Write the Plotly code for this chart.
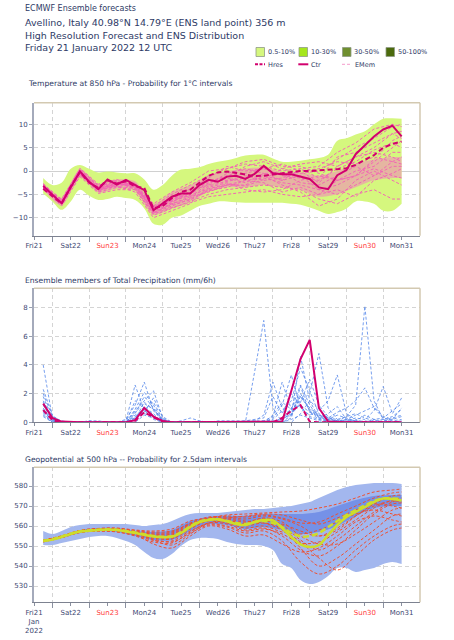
import pandas as pd
import plotly.graph_objects as go

# ---------------- time axis ----------------
times = pd.date_range("2022-01-21 18:00", "2022-01-31 12:00", freq="6h")   # 40 steps
mtimes = list(times[::2]) + [times[-1]]                                    # 21 steps (members)
label_days = pd.date_range("2022-01-21 12:00", "2022-01-31 12:00", freq="D")
midnights = pd.date_range("2022-01-22 00:00", "2022-01-31 00:00", freq="D")
day_labels = ["Fri21", "Sat22", "Sun23", "Mon24", "Tue25", "Wed26", "Thu27", "Fri28", "Sat29", "Sun30", "Mon31"]
sunday_labels = ["Sun23", "Sun30"]

# ---------------- Temperature 850 hPa ----------------
t_ctr = [-3.2, -5.0, -6.9, -3.5, -0.1, -2.3, -3.9, -1.8, -2.9, -1.9,
         -3.0, -4.1, -8.4, -6.9, -5.5, -4.8, -4.8, -3.0, -1.9, -2.3,
         -1.2, -1.0, -1.7, -0.6, 1.1, -0.5, -0.7, -0.7, -1.2, -1.7,
         -3.5, -3.9, -0.9, 0.2, 3.6, 5.6, 7.4, 8.9, 9.7, 7.4]
t_hres = [-3.8, -5.3, -7.0, -3.3, -0.2, -2.5, -3.6, -2.0, -2.7, -2.2,
          -3.3, -3.6, -8.0, -7.5, -5.8, -4.5, -4.0, -2.5, -1.0, -0.3,
          -0.1, -0.4, -0.8, -1.1, -1.0, -0.8, -0.5, -0.2, 0.0, 0.0,
          0.1, 0.2, 0.4, 0.6, 1.3, 2.4, 3.4, 5.0, 5.8, 6.3]
t_env_upper = [-1.5, -3.0, -2.5, 0.5, 1.3, 0.5, -0.3, -0.1, -0.3, -0.5,
               -0.5, -1.8, -4.0, -3.0, -1.0, 0.3, 0.5, 0.8, 1.5, 2.0,
               2.3, 2.8, 3.3, 3.5, 3.5, 2.7, 2.0, 2.0, 2.2, 2.5,
               2.8, 3.5, 6.5, 7.0, 7.8, 8.5, 10.0, 11.2, 11.3, 11.2]
t_env_lower = [-4.8, -6.5, -8.3, -6.5, -4.0, -5.3, -6.2, -6.0, -5.5, -5.8,
               -6.2, -8.0, -11.3, -11.5, -10.0, -9.5, -8.5, -7.5, -7.0, -6.5,
               -6.5, -6.7, -6.8, -6.8, -6.8, -6.8, -6.8, -7.0, -7.2, -7.8,
               -8.5, -9.2, -8.8, -8.0, -6.5, -6.5, -7.0, -8.5, -8.5, -7.0]
t_core_upper = [-2.6, -5.8, 0.3, -2.8, -1.8, -2.2, -7.0, -4.5, -3.0, -1.0, 0.0,
                0.5, 0.8, -0.2, -0.3, -1.0, 0.0, 1.5, 2.5, 3.0, 3.0]
t_core_lower = [-3.9, -7.4, -1.2, -4.6, -3.8, -4.2, -9.3, -8.0, -6.5, -4.5, -3.5,
                -3.5, -3.0, -3.5, -4.0, -5.5, -5.0, -3.5, -2.0, -1.5, -1.5]
temp_members = [
    [-3.0, -6.5, -0.5, -3.5, -2.5, -3.5, -8.0, -6.5, -5.0, -2.5, -1.0, -0.5, 0.5, -1.0, -1.5, -2.0, 0.5, 2.0, 4.5, 6.0, 5.0],
    [-3.5, -7.0, -1.0, -4.0, -3.0, -2.5, -9.0, -7.5, -6.0, -4.0, -3.0, -2.0, -1.5, -2.5, -3.0, -4.0, -5.0, -3.0, -1.0, 2.0, 3.0],
    [-2.8, -6.2, 0.3, -3.0, -2.0, -3.0, -7.5, -5.0, -3.0, -1.0, 0.5, 1.5, 1.0, 0.0, 0.5, 1.0, 4.0, 6.0, 9.0, 10.0, 9.5],
    [-3.8, -7.2, -0.8, -4.5, -3.5, -4.0, -9.5, -8.0, -6.5, -5.0, -4.0, -3.5, -3.0, -3.5, -4.0, -6.0, -7.0, -5.0, -4.0, -6.0, -6.0],
    [-3.2, -6.8, 0.0, -3.8, -2.8, -3.2, -8.5, -6.0, -4.5, -2.0, -2.0, -1.0, -2.0, -1.5, 0.0, 0.5, 2.0, 1.5, 3.0, 2.0, 1.5],
    [-3.4, -6.6, -0.3, -4.2, -3.2, -4.5, -10.0, -8.5, -7.0, -3.5, -2.5, -4.0, -4.5, -4.0, -2.0, -1.0, -2.0, 0.0, 1.0, 4.0, 4.0],
    [-2.9, -6.0, 0.5, -3.2, -2.2, -2.8, -7.0, -4.5, -2.5, 0.0, 0.5, 2.0, 2.5, 1.0, 1.0, -0.5, -2.0, -1.0, 2.0, 5.0, 6.5],
    [-3.6, -7.5, -1.2, -4.8, -4.0, -4.0, -9.0, -7.0, -5.5, -4.5, -3.0, -3.0, -1.0, -3.0, -4.5, -7.5, -6.0, -2.0, 0.0, -2.0, -3.0],
    [-3.1, -6.4, -0.2, -3.6, -2.6, -3.6, -8.2, -6.8, -4.2, -3.0, -1.5, -2.5, -0.5, -0.5, -2.5, -3.0, -1.0, 1.0, -1.0, 1.0, 1.0],
    [-3.3, -6.9, 0.2, -3.4, -3.2, -2.6, -7.8, -5.5, -5.5, -2.8, -0.5, 0.5, -0.5, -2.0, 0.5, -1.5, 3.0, 4.0, 6.0, 8.0, 7.0],
    [-3.7, -7.1, -0.6, -4.4, -2.4, -3.9, -8.8, -7.2, -6.2, -4.2, -3.5, -2.0, -2.5, -4.5, -3.5, -5.0, -4.0, -5.5, -2.0, -0.5, 0.5],
    [-2.7, -6.3, 0.6, -2.8, -1.8, -3.3, -7.6, -6.3, -3.8, -1.5, 1.0, 0.0, 0.5, 1.5, 0.0, -2.5, 1.0, 3.0, 5.0, 8.0, 8.5],
    [-3.3, -6.7, -0.4, -3.9, -2.7, -3.4, -8.6, -7.0, -5.8, -3.2, -2.2, -1.5, -1.0, -2.0, -1.0, -4.0, -3.0, -1.0, 2.5, 6.5, 7.5],
    [-3.0, -6.4, 0.1, -3.3, -2.3, -3.1, -8.0, -6.2, -4.8, -2.2, -1.2, 1.0, 2.0, 0.5, -0.5, 0.0, 2.5, 5.0, 7.0, 9.5, 10.0],
    [-3.5, -7.0, -0.7, -4.1, -3.3, -3.7, -9.2, -7.8, -6.8, -5.5, -5.0, -4.5, -4.0, -5.0, -5.5, -5.0, -2.0, -1.0, 0.5, -1.0, -1.5],
    [-3.2, -6.6, -0.2, -3.7, -2.9, -2.9, -8.3, -6.5, -5.2, -3.8, -2.8, -3.2, -1.8, 0.5, 1.5, 2.0, 1.0, 3.0, 4.0, 3.0, 2.0],
]

# ---------------- Precipitation (mm/6h) ----------------
p_ctr = [1.3, 0.3, 0.05, 0, 0, 0, 0, 0, 0, 0,
         0.15, 1.0, 0.4, 0.1, 0, 0, 0, 0, 0, 0,
         0, 0, 0, 0, 0, 0, 0.05, 2.2, 4.4, 5.75,
         1.0, 0.05, 0, 0, 0, 0, 0, 0, 0, 0]
p_hres = [0.85, 0.15, 0, 0, 0, 0, 0, 0, 0, 0,
          0.1, 0.7, 0.35, 0.05, 0, 0, 0, 0, 0, 0,
          0, 0, 0, 0, 0, 0, 0.3, 0.8, 1.2, 0.05,
          0, 0, 0, 0, 0, 0, 0, 0, 0, 0]
precip_members = [
    [4.0, 0.3, 0, 0, 0, 0, 0, 0, 0, 0.1, 2.6, 0.8, 0.2, 0, 0, 0, 0, 0, 0, 0, 0, 0, 0, 3.5, 7.1, 1.0, 0, 0.2, 0.5, 0.3, 0.1, 0, 0, 0, 0, 0, 0.2, 0, 0, 0.1],
    [2.3, 0.5, 0, 0, 0, 0, 0, 0, 0, 0.2, 1.2, 2.8, 0.8, 0.1, 0, 0, 0, 0, 0, 0, 0, 0, 0, 0.1, 0.5, 2.8, 1.0, 0.5, 4.6, 1.5, 0.3, 0.1, 0, 0.2, 0.1, 0, 0, 0, 0, 0],
    [1.8, 0.2, 0, 0, 0, 0, 0, 0, 0, 0, 0.8, 1.5, 2.2, 0.3, 0, 0, 0, 0.1, 0, 0, 0, 0, 0, 0, 0.1, 0.4, 2.8, 0.9, 1.5, 2.0, 4.8, 1.0, 0.2, 0, 0, 0.1, 0, 0, 0, 0],
    [1.2, 0.1, 0, 0, 0, 0.1, 0, 0, 0, 0, 0.6, 1.8, 1.0, 0.1, 0, 0, 0, 0, 0, 0, 0, 0, 0, 0, 0, 0.3, 1.2, 3.3, 1.0, 0.5, 0.8, 1.5, 3.3, 0.6, 0.2, 0, 0, 0, 0.3, 0.5],
    [0.9, 0.1, 0, 0, 0, 0, 0, 0, 0, 0, 0.3, 1.1, 0.6, 0, 0, 0, 0, 0, 0, 0, 0, 0, 0, 0, 0, 0, 0.2, 0.6, 2.0, 0.8, 0.3, 0.2, 0.1, 0.4, 1.2, 8.1, 1.5, 0.2, 0, 0],
    [0.6, 0, 0, 0, 0, 0, 0, 0, 0, 0, 0.2, 1.4, 0.9, 0.2, 0, 0, 0, 0, 0, 0, 0, 0, 0, 0, 0, 0, 0, 0.5, 1.8, 1.0, 0.5, 0.3, 0.7, 1.0, 1.5, 2.4, 1.0, 0.3, 0.1, 0.2],
    [1.5, 0.2, 0, 0, 0, 0, 0, 0, 0, 0, 0.5, 0.9, 1.4, 0.2, 0, 0, 0, 0, 0, 0, 0, 0, 0, 0, 0, 0, 0, 0.3, 2.5, 0.7, 0.2, 0.1, 0, 0.1, 0.3, 0.2, 0.8, 2.5, 0.6, 1.7],
    [0.7, 0, 0, 0, 0, 0, 0, 0, 0, 0, 1.5, 1.0, 0.5, 0, 0, 0, 0, 0, 0, 0, 0, 0, 0, 0, 0, 0.2, 0.8, 1.5, 3.8, 2.2, 0.6, 0.2, 0.5, 0.3, 0.1, 0.5, 0.2, 0.3, 0.8, 1.3],
    [0.4, 0, 0, 0, 0, 0, 0, 0, 0, 0, 0.2, 0.6, 0.4, 0, 0, 0, 0, 0, 0, 0, 0, 0, 0, 0, 0, 0, 0.1, 0.8, 1.2, 0.7, 0.5, 0.3, 0.2, 0.4, 0.6, 0.3, 0.1, 0.2, 0.4, 0.9],
    [1.0, 0.1, 0, 0, 0, 0, 0, 0, 0, 0, 0.4, 0.7, 1.7, 0.4, 0, 0, 0, 0, 0, 0, 0, 0, 0, 0, 0, 0.5, 1.4, 0.9, 2.6, 1.2, 0.3, 0.6, 1.1, 0.2, 0, 0, 0, 0.1, 0.2, 0.4],
    [0.5, 0, 0, 0, 0, 0, 0, 0, 0, 0, 0, 0.5, 0.3, 0, 0, 0, 0, 0, 0, 0, 0, 0, 0, 0, 0, 0, 0, 0, 0.6, 1.5, 0.9, 0.3, 0.1, 0.2, 0.5, 0.8, 1.1, 0.4, 0.2, 1.0],
    [2.0, 0.4, 0.1, 0, 0, 0, 0, 0, 0, 0, 0.9, 2.1, 1.2, 0.1, 0, 0.1, 0.3, 0.1, 0, 0, 0, 0, 0.1, 0.2, 0.3, 1.8, 0.6, 2.0, 1.1, 0.4, 0.2, 0, 0, 0, 0, 0, 0, 0, 0, 0],
    [0.8, 0.1, 0, 0, 0, 0.1, 0.1, 0, 0, 0, 0.3, 0.8, 0.4, 0, 0, 0, 0, 0, 0, 0.1, 0.1, 0.1, 0.1, 0.1, 0.1, 0.1, 0.2, 1.0, 1.8, 0.9, 0.4, 0.2, 0.1, 0.1, 0.1, 0, 0, 0, 0, 0.1],
    [1.4, 0.2, 0, 0, 0, 0, 0, 0, 0, 0, 0.7, 1.3, 0.9, 0.1, 0, 0, 0, 0, 0, 0, 0, 0, 0, 0, 0, 0, 0.3, 0.5, 1.4, 3.0, 1.2, 0.4, 0, 0, 0, 0, 0, 0, 0, 0],
]

# ---------------- Geopotential 500 hPa (dam) ----------------
z_ctr = [552.5, 553.2, 554.5, 556.0, 557.2, 557.6, 558.0, 558.2, 558.0, 557.3,
         556.5, 555.6, 554.8, 554.4, 554.6, 556.5, 559.5, 562.0, 563.0, 563.3,
         562.3, 561.0, 560.5, 562.0, 563.0, 562.8, 559.0, 554.5, 550.8, 549.5,
         550.5, 555.5, 560.5, 564.5, 567.0, 569.5, 572.0, 573.8, 573.5, 572.8]
z_hres = [552.6, 553.4, 554.7, 556.2, 557.3, 557.8, 558.1, 558.3, 558.1, 557.5,
          556.8, 555.9, 555.0, 554.6, 554.9, 556.9, 559.8, 562.2, 563.2, 563.4,
          562.5, 561.5, 561.0, 562.0, 562.5, 561.5, 559.5, 556.5, 554.8, 555.0,
          556.5, 559.5, 562.5, 565.5, 568.0, 570.2, 572.5, 573.8, 573.8, 573.5]
z_env_upper = [557.5, 556.0, 557.5, 559.5, 560.5, 561.0, 561.0, 561.0, 561.0, 561.0,
               560.5, 560.0, 560.5, 561.0, 562.5, 564.5, 566.0, 566.5, 566.5, 566.5,
               567.0, 567.5, 568.0, 568.5, 568.5, 569.0, 569.5, 570.0, 571.0, 572.0,
               574.0, 576.0, 578.0, 579.5, 580.5, 581.0, 581.5, 581.5, 581.5, 581.0]
z_env_lower = [550.5, 550.5, 551.5, 552.5, 553.5, 554.5, 555.0, 555.0, 554.0, 552.5,
               550.5, 547.0, 544.0, 543.5, 546.0, 550.0, 553.0, 554.0, 554.0, 553.5,
               552.0, 551.0, 550.5, 550.5, 550.0, 548.0, 541.0, 539.0, 533.0, 531.0,
               532.0, 535.0, 539.0, 539.0, 537.0, 538.0, 539.0, 541.0, 542.0, 541.0]
z_band_upper = [553.0, 555.0, 558.0, 559.0, 559.0, 557.5, 557.0, 558.0, 562.5, 564.5, 565.0,
                565.0, 566.0, 566.0, 566.0, 567.0, 570.0, 573.0, 575.0, 575.5, 575.5]
z_band_lower = [552.0, 554.0, 556.5, 557.5, 557.0, 555.0, 553.0, 553.0, 557.5, 561.0, 560.5,
                558.5, 559.5, 558.0, 556.0, 557.0, 560.0, 565.0, 569.0, 570.0, 570.0]
geo_members = [
    [552.5, 554.8, 557.5, 558.5, 558.5, 557.5, 556.5, 557.0, 561.5, 564.5, 564.5, 563.5, 565.0, 563.5, 560.0, 555.0, 558.0, 565.0, 571.0, 575.0, 575.5],
    [552.0, 554.2, 557.0, 557.5, 557.0, 555.0, 552.0, 551.5, 557.0, 561.5, 561.0, 558.0, 559.0, 555.0, 548.0, 545.0, 550.0, 558.0, 566.0, 571.0, 571.5],
    [553.0, 555.0, 557.8, 558.8, 559.0, 558.0, 557.5, 558.5, 562.5, 564.0, 565.5, 566.0, 566.5, 567.0, 567.5, 569.0, 571.0, 574.0, 577.0, 578.0, 578.5],
    [552.2, 554.5, 556.8, 557.6, 557.5, 556.0, 553.5, 552.0, 556.5, 560.5, 559.5, 556.5, 557.5, 552.5, 542.0, 536.0, 540.0, 548.0, 555.0, 560.0, 561.0],
    [552.6, 554.6, 557.2, 558.2, 558.2, 556.8, 555.2, 555.5, 560.0, 563.2, 563.5, 562.0, 563.8, 560.5, 553.0, 548.0, 553.0, 560.0, 567.0, 572.0, 573.0],
    [552.4, 554.3, 556.9, 557.8, 557.7, 555.8, 551.0, 549.0, 555.0, 560.0, 558.5, 555.0, 555.5, 551.0, 547.0, 549.0, 555.0, 562.0, 565.0, 563.0, 562.0],
    [552.8, 554.9, 557.6, 558.6, 558.8, 557.8, 557.0, 557.5, 561.0, 563.5, 564.0, 565.0, 566.0, 565.5, 563.0, 561.0, 564.0, 568.0, 571.0, 570.0, 569.0],
    [552.3, 554.4, 557.1, 557.9, 557.8, 556.3, 554.0, 553.5, 558.5, 562.5, 561.5, 559.0, 560.0, 557.0, 556.0, 558.0, 562.0, 566.0, 568.0, 566.0, 565.0],
    [552.7, 554.7, 557.4, 558.4, 558.3, 557.0, 555.8, 556.0, 560.5, 563.8, 564.0, 562.5, 561.5, 558.0, 552.0, 544.0, 538.0, 545.0, 553.0, 558.0, 559.0],
    [552.1, 554.1, 556.7, 557.4, 557.2, 555.5, 552.8, 552.5, 557.5, 561.0, 560.0, 557.5, 558.5, 556.0, 551.5, 552.0, 557.0, 563.0, 569.0, 573.0, 574.0],
    [552.9, 555.1, 557.8, 558.7, 558.6, 557.2, 556.0, 556.5, 561.0, 564.0, 565.0, 564.5, 565.5, 564.0, 561.5, 562.0, 566.0, 570.0, 574.0, 576.5, 577.0],
    [552.5, 554.6, 557.3, 558.1, 557.9, 556.6, 554.5, 554.0, 559.0, 562.8, 562.0, 560.0, 561.5, 558.5, 549.0, 540.0, 544.0, 551.0, 558.0, 565.0, 566.0],
    [552.3, 554.5, 557.0, 557.9, 558.0, 556.9, 555.0, 554.8, 559.5, 563.0, 563.0, 561.0, 562.5, 561.0, 557.5, 555.0, 559.0, 565.0, 570.0, 572.5, 572.0],
    [552.6, 554.7, 557.3, 558.3, 558.1, 556.4, 553.0, 550.5, 556.0, 561.5, 562.5, 561.5, 564.0, 562.0, 555.0, 551.0, 551.0, 556.0, 562.0, 568.0, 569.0],
]

# ---------------- text ----------------
header_small = "ECMWF Ensemble forecasts"
header_lines = ["Avellino, Italy 40.98°N 14.79°E (ENS land point) 356 m",
                "High Resolution Forecast and ENS Distribution",
                "Friday 21 January 2022 12 UTC"]
panel_titles = ["Temperature at 850 hPa - Probability for 1°C intervals",
                "Ensemble members of Total Precipitation (mm/6h)",
                "Geopotential at 500 hPa -- Probability for 2.5dam intervals"]
prob_labels = ["0.5-10%", "10-30%", "30-50%", "50-100%"]
prob_colors = ["#d5f77e", "#a5e61c", "#6f8f2f", "#4b6a0c"]
line_labels = ["Hres", "Ctr", "EMem"]

# ---------------- styling ----------------
W, H = 454, 640
FONT = "DejaVu Sans"
NAVY = "#2e3a66"
MAG = "#d2006e"
PINK = "#f266b4"
BLUE = "#5486ea"
RED = "#ee5030"
YEL = "#cddd2a"

def px_x(p):
    return p / W

def px_y(p):
    return 1 - p / H

fig = go.Figure()

def add(trace, k):
    sfx = "" if k == 1 else str(k)
    trace.update(xaxis="x" + sfx, yaxis="y" + sfx, showlegend=False, hoverinfo="skip")
    fig.add_trace(trace)

# Panel 1: temperature
add(go.Scatter(x=times, y=t_env_upper, mode="lines", line=dict(width=0, shape="spline", smoothing=1.0)), 1)
add(go.Scatter(x=times, y=t_env_lower, mode="lines", line=dict(width=0, shape="spline", smoothing=1.0),
               fill="tonexty", fillcolor="#d5f77e"), 1)
add(go.Scatter(x=mtimes, y=t_core_upper, mode="lines", line=dict(width=0, shape="spline", smoothing=0.8)), 1)
add(go.Scatter(x=mtimes, y=t_core_lower, mode="lines", line=dict(width=0, shape="spline", smoothing=0.8),
               fill="tonexty", fillcolor="rgba(242,130,190,0.55)"), 1)
for m in temp_members:
    add(go.Scatter(x=mtimes, y=m, mode="lines", line=dict(color=PINK, width=1, dash="3px,2px")), 1)
add(go.Scatter(x=times, y=t_hres, mode="lines", line=dict(color=MAG, width=2, dash="5px,3px")), 1)
add(go.Scatter(x=times, y=t_ctr, mode="lines", line=dict(color=MAG, width=2)), 1)

# Panel 2: precipitation
for m in precip_members:
    add(go.Scatter(x=times, y=m, mode="lines", line=dict(color=BLUE, width=0.8, dash="3px,2px")), 2)
add(go.Scatter(x=times, y=p_hres, mode="lines", line=dict(color=MAG, width=2, dash="5px,3px")), 2)
add(go.Scatter(x=times, y=p_ctr, mode="lines", line=dict(color=MAG, width=2)), 2)

# Panel 3: geopotential
add(go.Scatter(x=times, y=z_env_upper, mode="lines", line=dict(width=0, shape="spline", smoothing=1.0)), 3)
add(go.Scatter(x=times, y=z_env_lower, mode="lines", line=dict(width=0, shape="spline", smoothing=1.0),
               fill="tonexty", fillcolor="#a3b7ee"), 3)
add(go.Scatter(x=mtimes, y=z_band_upper, mode="lines", line=dict(width=0, shape="spline", smoothing=0.8)), 3)
add(go.Scatter(x=mtimes, y=z_band_lower, mode="lines", line=dict(width=0, shape="spline", smoothing=0.8),
               fill="tonexty", fillcolor="rgba(80,115,225,0.55)"), 3)
for m in geo_members:
    add(go.Scatter(x=mtimes, y=m, mode="lines", line=dict(color=RED, width=1, dash="3px,2px", shape="spline")), 3)
add(go.Scatter(x=times, y=z_hres, mode="lines", line=dict(color=YEL, width=2.5, dash="6px,3px", shape="spline")), 3)
add(go.Scatter(x=times, y=z_ctr, mode="lines", line=dict(color=YEL, width=2.5, shape="spline")), 3)

# ---------------- axes ----------------
def ticktext(panel):
    out = []
    for lab in day_labels:
        t = f'<span style="color:#ff3b3b">{lab}</span>' if lab in sunday_labels else lab
        out.append(t)
    if panel == 3:
        out[0] = out[0] + "<br>Jan<br>2022"
    return out

domains = [(px_y(235.7), px_y(102.7)), (px_y(422.3), px_y(288.3)), (px_y(602.3), px_y(467.3))]
yranges = [[-13.85, 14.63], [0, 9.34], [521.85, 589.35]]
ytickvals = [[-10, -5, 0, 5, 10], [0, 2, 4, 6, 8], [530, 540, 550, 560, 570, 580]]
xr = ["2022-01-21 12:00", "2022-02-01 00:00"]

layout = dict(
    width=W, height=H,
    margin=dict(l=0, r=0, t=0, b=0),
    paper_bgcolor="white", plot_bgcolor="white",
    font=dict(family=FONT, color=NAVY),
    showlegend=False,
)
for k in (1, 2, 3):
    sfx = "" if k == 1 else str(k)
    layout["xaxis" + sfx] = dict(
        domain=[px_x(34), px_x(420)], anchor="y" + sfx, type="date", range=xr,
        tickmode="array", tickvals=list(label_days), ticktext=ticktext(k),
        tickfont=dict(size=7, color="#3d4872", family=FONT),
        ticks="outside", ticklen=3, tickcolor="#8a90a0",
        showgrid=False, zeroline=False,
        showline=True, linecolor="#7d8290", linewidth=1,
        minor=dict(tickmode="array", tickvals=list(midnights), ticks="outside", ticklen=5,
                   tickcolor="#8a90a0", showgrid=True, gridcolor="#d4d4d4", griddash="4px,3px", gridwidth=1),
        automargin=False, fixedrange=True,
    )
    layout["yaxis" + sfx] = dict(
        domain=list(domains[k - 1]), anchor="x" + sfx, range=yranges[k - 1],
        tickmode="array", tickvals=ytickvals[k - 1],
        tickfont=dict(size=7, color="#3d4872", family=FONT),
        ticks="outside", ticklen=3, tickcolor="#9aa0b0",
        showgrid=True, gridcolor="#d4d4d4", griddash="4px,3px", gridwidth=1,
        zeroline=(k == 1), zerolinecolor="#d0d0d0", zerolinewidth=1,
        showline=True, linecolor="#a4aabb", linewidth=2,
        automargin=False, fixedrange=True,
    )
fig.update_layout(**layout)

# frame lines (top and right) for each panel
shapes = []
for k in (1, 2, 3):
    sfx = "" if k == 1 else str(k)
    shapes.append(dict(type="line", xref="x" + sfx + " domain", yref="y" + sfx + " domain",
                       x0=0, x1=1, y0=1, y1=1, line=dict(color="#d3c9b1", width=1.5), layer="above"))
    shapes.append(dict(type="line", xref="x" + sfx + " domain", yref="y" + sfx + " domain",
                       x0=1, x1=1, y0=0, y1=1, line=dict(color="#d3c9b1", width=1.5), layer="above"))

# legend boxes
box_x = [256, 299, 342.5, 386]
annotations = []
for bx, col, lab in zip(box_x, prob_colors, prob_labels):
    shapes.append(dict(type="rect", xref="paper", yref="paper",
                       x0=px_x(bx), x1=px_x(bx + 8.5), y0=px_y(56.5), y1=px_y(47.5),
                       fillcolor=col, line=dict(color="#8f9a86", width=0.8)))
    annotations.append(dict(xref="paper", yref="paper", x=px_x(bx + 9.5), y=px_y(52),
                            text=lab, showarrow=False, xanchor="left", yanchor="middle",
                            font=dict(size=6.5, color=NAVY, family=FONT)))
# legend lines
line_x = [255, 298.3, 342]
line_styles = [dict(color=MAG, width=2, dash="3px,1.5px"), dict(color=MAG, width=2),
               dict(color="#f59ccb", width=1, dash="3px,2px")]
for lx, st, lab in zip(line_x, line_styles, line_labels):
    shapes.append(dict(type="line", xref="paper", yref="paper",
                       x0=px_x(lx), x1=px_x(lx + 10), y0=px_y(64.3), y1=px_y(64.3), line=st))
    annotations.append(dict(xref="paper", yref="paper", x=px_x(lx + 10.8), y=px_y(64.5),
                            text=lab, showarrow=False, xanchor="left", yanchor="middle",
                            font=dict(size=6.5, color=NAVY, family=FONT)))

# header text
annotations.append(dict(xref="paper", yref="paper", x=px_x(22.5), y=px_y(8.5), text=header_small,
                        showarrow=False, xanchor="left", yanchor="middle",
                        font=dict(size=8, color=NAVY, family=FONT)))
for yy, txt in zip([22, 35, 48], header_lines):
    annotations.append(dict(xref="paper", yref="paper", x=px_x(22.5), y=px_y(yy), text=txt,
                            showarrow=False, xanchor="left", yanchor="middle",
                            font=dict(size=9.5, color=NAVY, family=FONT)))
for (xx, yy), txt in zip([(25.5, 83.5), (22.5, 280), (22.5, 459.5)], panel_titles):
    annotations.append(dict(xref="paper", yref="paper", x=px_x(xx), y=px_y(yy), text=txt,
                            showarrow=False, xanchor="left", yanchor="middle",
                            font=dict(size=7.6, color=NAVY, family=FONT)))

fig.update_layout(shapes=shapes, annotations=annotations)
# remove the browser's default 8px body margin so the 454x640 figure fills the window exactly
fig.write_html("out.html", config={"displayModeBar": False},
               post_script="document.body.style.margin='0px';")
